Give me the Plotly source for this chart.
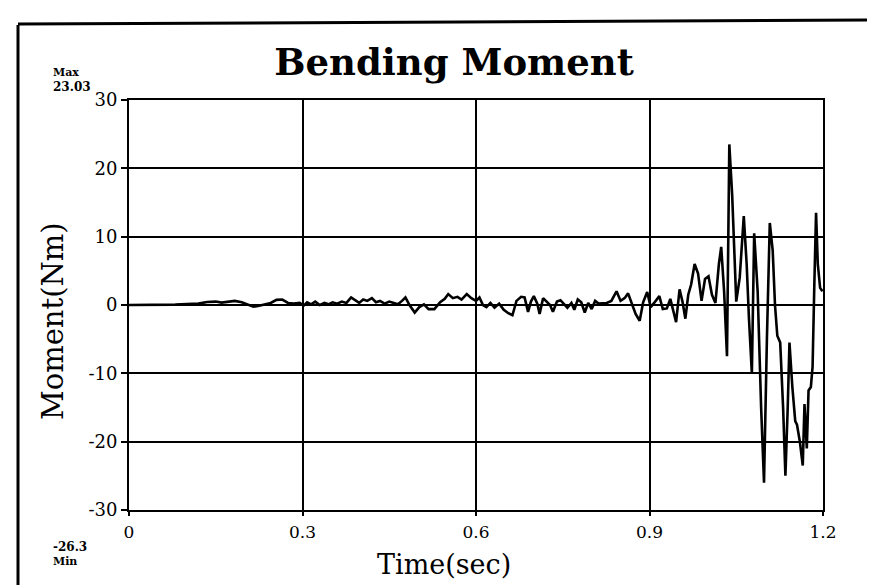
import plotly.graph_objects as go

# ---- data ----
time_s = [
    0.000, 0.050, 0.080, 0.100, 0.120, 0.135, 0.150, 0.160, 0.170, 0.183,
    0.195, 0.205, 0.215, 0.225, 0.235, 0.245, 0.255, 0.265, 0.275, 0.285,
    0.295, 0.302, 0.308, 0.315, 0.322, 0.330, 0.338, 0.345, 0.352, 0.360,
    0.368, 0.376, 0.384, 0.392, 0.398, 0.405, 0.412, 0.420, 0.427, 0.434,
    0.442, 0.450, 0.458, 0.465, 0.472, 0.478, 0.485, 0.494, 0.502, 0.510,
    0.518, 0.528, 0.538, 0.546, 0.552, 0.560, 0.568, 0.575, 0.584, 0.592,
    0.600, 0.606, 0.612, 0.618, 0.625, 0.632, 0.640, 0.648, 0.656, 0.663,
    0.670, 0.678, 0.684, 0.690, 0.695, 0.700, 0.706, 0.710, 0.716, 0.722,
    0.728, 0.733, 0.740, 0.746, 0.752, 0.758, 0.765, 0.770, 0.776, 0.782,
    0.788, 0.794, 0.800, 0.806, 0.812, 0.818, 0.826, 0.834, 0.843, 0.850,
    0.857, 0.863, 0.870, 0.876, 0.883, 0.889, 0.896, 0.902, 0.908, 0.913,
    0.917, 0.923, 0.930, 0.936, 0.941, 0.946, 0.952, 0.957, 0.962, 0.967,
    0.972, 0.978, 0.984, 0.990, 0.996, 1.002, 1.008, 1.014, 1.020, 1.024,
    1.029, 1.034, 1.038, 1.043, 1.050, 1.056, 1.063, 1.068, 1.072, 1.077,
    1.081, 1.087, 1.093, 1.098, 1.103, 1.108, 1.113, 1.117, 1.121, 1.126,
    1.131, 1.135, 1.139, 1.142, 1.147, 1.152, 1.155, 1.160, 1.165, 1.168,
    1.172, 1.175, 1.179, 1.182, 1.185, 1.188, 1.191, 1.195, 1.199,
]
moment_nm = [
    0.0, 0.0, 0.05, 0.15, 0.2, 0.45, 0.5, 0.35, 0.45, 0.6,
    0.4, 0.1, -0.25, -0.1, 0.1, 0.3, 0.75, 0.8, 0.3, 0.2,
    0.3, -0.1, 0.4, 0.1, 0.5, 0.0, 0.3, 0.1, 0.4, 0.2,
    0.5, 0.3, 1.1, 0.7, 0.3, 0.8, 0.6, 1.0, 0.4, 0.6,
    0.2, 0.5, 0.3, 0.1, 0.6, 1.1, 0.0, -1.1, -0.3, 0.1,
    -0.6, -0.6, 0.4, 0.9, 1.6, 1.0, 1.2, 0.8, 1.6, 1.0,
    0.6, 1.1, 0.0, -0.3, 0.3, -0.4, 0.2, -0.7, -1.2, -1.5,
    0.6, 1.2, 1.1, -1.0, 0.5, 1.3, 0.2, -1.3, 1.0, 0.5,
    0.0, -1.0, 0.5, 0.7, 0.2, -0.4, 0.3, -0.7, 0.8, 0.4,
    -1.1, 0.3, -0.6, 0.6, 0.2, 0.2, 0.3, 0.6, 2.0, 0.6,
    1.0, 1.7, 0.2, -1.3, -2.3, 0.4, 1.9, -0.3, 0.3, 0.9,
    1.3, -0.6, -0.5, 0.9, -1.0, -2.5, 2.3, 0.5, -2.0, 1.5,
    3.0, 6.0, 4.6, 0.6, 3.8, 4.2, 1.5, 0.3, 6.0, 8.5,
    2.0, -7.5, 23.5, 16.0, 0.5, 4.0, 13.0, 6.0, -2.0, -10.0,
    10.5, 2.0, -15.0, -26.0, -5.0, 12.0, 8.0, 0.0, -4.5, -5.5,
    -15.0, -25.0, -15.0, -5.5, -12.0, -17.0, -17.5, -20.0, -23.5, -14.5,
    -21.0, -12.5, -12.0, -9.0, 3.0, 13.5, 6.0, 2.5, 2.0,
]
x_tick_vals = [0, 0.3, 0.6, 0.9, 1.2]
x_tick_text = ["0", "0.3", "0.6", "0.9", "1.2"]
y_tick_vals = [-30, -20, -10, 0, 10, 20, 30]
y_tick_text = ["-30", "-20", "-10", "0", "10", "20", "30"]
max_value = "23.03"
min_value = "-26.3"

SERIF = "DejaVu Serif, Liberation Serif, serif"

fig = go.Figure()
fig.add_trace(go.Scatter(
    x=time_s, y=moment_nm, mode="lines",
    line=dict(color="black", width=2.6),
    showlegend=False, hoverinfo="skip",
))

fig.update_layout(
    width=875, height=585,
    margin=dict(l=121, r=60, t=92, b=83),
    paper_bgcolor="white", plot_bgcolor="white",
    title=dict(
        text="<b>Bending Moment</b>",
        font=dict(family=SERIF, size=37, color="black"),
        x=(446 - 121) / 694.0, xref="paper", xanchor="center",
        y=1 - 54 / 585, yref="container", yanchor="middle",
    ),
    showlegend=False,
)
fig.update_xaxes(
    range=[0, 1.2], tickvals=x_tick_vals, ticktext=x_tick_text,
    showgrid=True, gridcolor="black", gridwidth=2,
    showline=True, linecolor="black", linewidth=2, mirror=True,
    ticks="outside", ticklen=4, tickcolor="black", tickwidth=1.5,
    ticklabelstandoff=2,
    zeroline=False,
    tickfont=dict(family=SERIF, size=17, color="black"),
)
fig.update_yaxes(
    range=[-30, 30], tickvals=y_tick_vals, ticktext=y_tick_text,
    showgrid=True, gridcolor="black", gridwidth=2,
    showline=True, linecolor="black", linewidth=2, mirror=True,
    ticks="outside", ticklen=6, tickcolor="black", tickwidth=1.5,
    zeroline=False,
    tickfont=dict(family=SERIF, size=18, color="black"),
)

def px_x(p):
    return (p - 121) / 694.0

def px_y(p):
    return (502 - p) / 410.0

annotations = [
    dict(text="Moment(Nm)", textangle=-90, x=px_x(45), y=px_y(313),
         font=dict(family=SERIF, size=29, color="black")),
    dict(text="Time(sec)", x=px_x(436), y=px_y(556),
         font=dict(family=SERIF, size=27, color="black")),
    dict(text="<b>Max</b>", x=px_x(43), y=px_y(65), xanchor="left",
         font=dict(family=SERIF, size=11, color="black")),
    dict(text="<b>" + max_value + "</b>", x=px_x(43), y=px_y(79), xanchor="left",
         font=dict(family=SERIF, size=12, color="black")),
    dict(text="<b>" + min_value + "</b>", x=px_x(43), y=px_y(539), xanchor="left",
         font=dict(family=SERIF, size=12, color="black")),
    dict(text="<b>Min</b>", x=px_x(43), y=px_y(553), xanchor="left",
         font=dict(family=SERIF, size=11, color="black")),
]
for a in annotations:
    a.setdefault("xanchor", "center")
    a.update(xref="paper", yref="paper", yanchor="middle", showarrow=False)
fig.update_layout(annotations=annotations)

# outer frame of the scanned page
frame = [
    dict(x0=px_x(10), x1=px_x(10), y0=px_y(17), y1=px_y(590)),
    dict(x0=px_x(10), x1=px_x(880), y0=px_y(16), y1=px_y(12)),
    dict(x0=px_x(390), x1=px_x(880), y0=px_y(582), y1=px_y(582)),
]
fig.update_layout(shapes=[
    dict(type="line", xref="paper", yref="paper", line=dict(color="black", width=3), **f)
    for f in frame
])

fig.write_html("out.html")
